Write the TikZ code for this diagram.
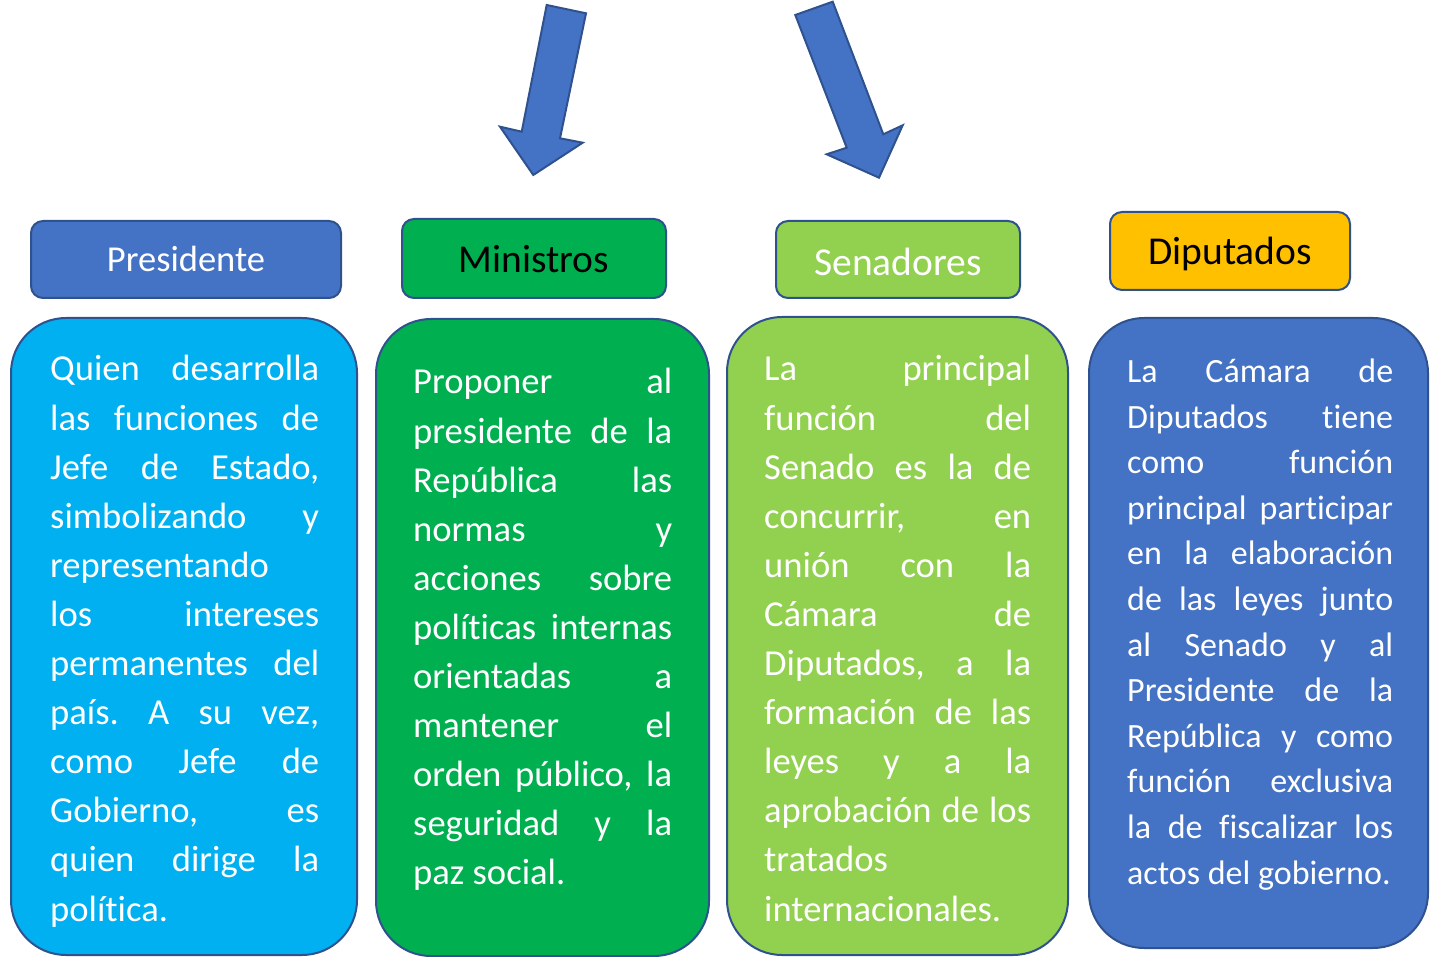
\documentclass[tikz,border=0pt]{standalone}
\usepackage{fontspec}
\setmainfont[Ligatures=NoCommon]{Carlito}
\frenchspacing
\definecolor{blueA}{HTML}{4472C4}
\definecolor{edgeB}{HTML}{2F528F}
\definecolor{cyanB}{HTML}{00B0F0}
\definecolor{greenA}{HTML}{00B050}
\definecolor{lgreen}{HTML}{92D050}
\definecolor{goldA}{HTML}{FFC000}
\newcommand{\JL}[1]{\makebox[\linewidth][s]{#1}\\}
\newcommand{\LLn}[1]{\makebox[\linewidth][l]{#1}\\}
\tikzset{
  headbox/.style={draw=edgeB, line width=2pt, rounded corners=12pt, inner sep=0pt},
  bodybox/.style={draw=edgeB, line width=2pt, rounded corners=55pt, inner sep=0pt},
  bodytext/.style={anchor=base west, inner sep=0pt, text=white},
  headtext/.style={inner sep=0pt},
  arrowshape/.style={fill=blueA, draw=edgeB, line width=2pt, line join=miter}
}
\begin{document}
\begin{tikzpicture}[x=1pt,y=-1pt]
\useasboundingbox (0,0) rectangle (1430,957);

% arrows
\draw[arrowshape] (546.7,5) -- (586,13.3) -- (560,138.3) -- (582.7,142.7) -- (533.3,175) -- (500,126.7) -- (521.7,131.7) -- cycle;
\draw[arrowshape] (795.3,15) -- (832.7,1.7) -- (883.3,134.3) -- (902.7,125.3) -- (879,177.7) -- (826.7,154.3) -- (846.7,147.7) -- cycle;

% headers
\node[headbox, fill=blueA, minimum width=310pt, minimum height=77pt] (hP) at (186,259.5) {};
\node[headbox, fill=greenA, minimum width=264pt, minimum height=79pt] (hM) at (534,258.5) {};
\node[headbox, fill=lgreen, minimum width=244pt, minimum height=77pt] (hS) at (898,259.5) {};
\node[headbox, fill=goldA, minimum width=240pt, minimum height=78pt] (hD) at (1230,251) {};
\node[headtext, text=white, font=\fontsize{36.5}{44}\selectfont] (lP) at (186,259) {Presidente};
\node[headtext, text=black, font=\fontsize{39.5}{47}\selectfont] (lM) at (534,259.5) {Ministros};
\node[headtext, text=white, font=\fontsize{39.5}{47}\selectfont] (lS) at (898,261.5) {Senadores};
\node[headtext, text=black, font=\fontsize{39.5}{47}\selectfont] (lD) at (1230,253.5) {Diputados};

% bodies
\node[bodybox, fill=cyanB, minimum width=346pt, minimum height=637pt] (bP) at (184,636.5) {};
\node[bodybox, fill=greenA, minimum width=333pt, minimum height=637pt] (bM) at (542.5,637.5) {};
\node[bodybox, fill=lgreen, minimum width=341pt, minimum height=638pt] (bS) at (897.5,636) {};
\node[bodybox, fill=blueA, minimum width=339pt, minimum height=630pt] (bD) at (1258.5,633) {};

% body texts
\node[bodytext] (tP) at (50,381) {\parbox[t]{269pt}{\fontsize{36.6}{49.1}\selectfont
\JL{Quien desarrolla}
\JL{las funciones de}
\JL{Jefe de Estado,}
\JL{simbolizando y}
\LLn{representando}
\JL{los intereses}
\JL{permanentes del}
\JL{país. A su vez,}
\JL{como Jefe de}
\JL{Gobierno, es}
\JL{quien dirige la}
política.}};

\node[bodytext] (tM) at (413,394) {\parbox[t]{259pt}{\fontsize{36.6}{49.1}\selectfont
\JL{Proponer al}
\JL{presidente de la}
\JL{República las}
\JL{normas y}
\JL{acciones sobre}
\JL{políticas internas}
\JL{orientadas a}
\JL{mantener el}
\JL{orden público, la}
\JL{seguridad y la}
paz social.}};

\node[bodytext] (tS) at (764,381) {\parbox[t]{267pt}{\fontsize{36.6}{49.1}\selectfont
\JL{La principal}
\JL{función del}
\JL{Senado es la de}
\JL{concurrir, en}
\JL{unión con la}
\JL{Cámara de}
\JL{Diputados, a la}
\JL{formación de las}
\JL{leyes y a la}
\JL{aprobación de los}
\LLn{tratados}
internacionales.}};

\node[bodytext] (tD) at (1127,382.5) {\parbox[t]{266pt}{\fontsize{34}{45.6}\selectfont
\JL{La Cámara de}
\JL{Diputados tiene}
\JL{como función}
\JL{principal participar}
\JL{en la elaboración}
\JL{de las leyes junto}
\JL{al Senado y al}
\JL{Presidente de la}
\JL{República y como}
\JL{función exclusiva}
\JL{la de fiscalizar los}
actos del gobierno.}};
\end{tikzpicture}
\end{document}
